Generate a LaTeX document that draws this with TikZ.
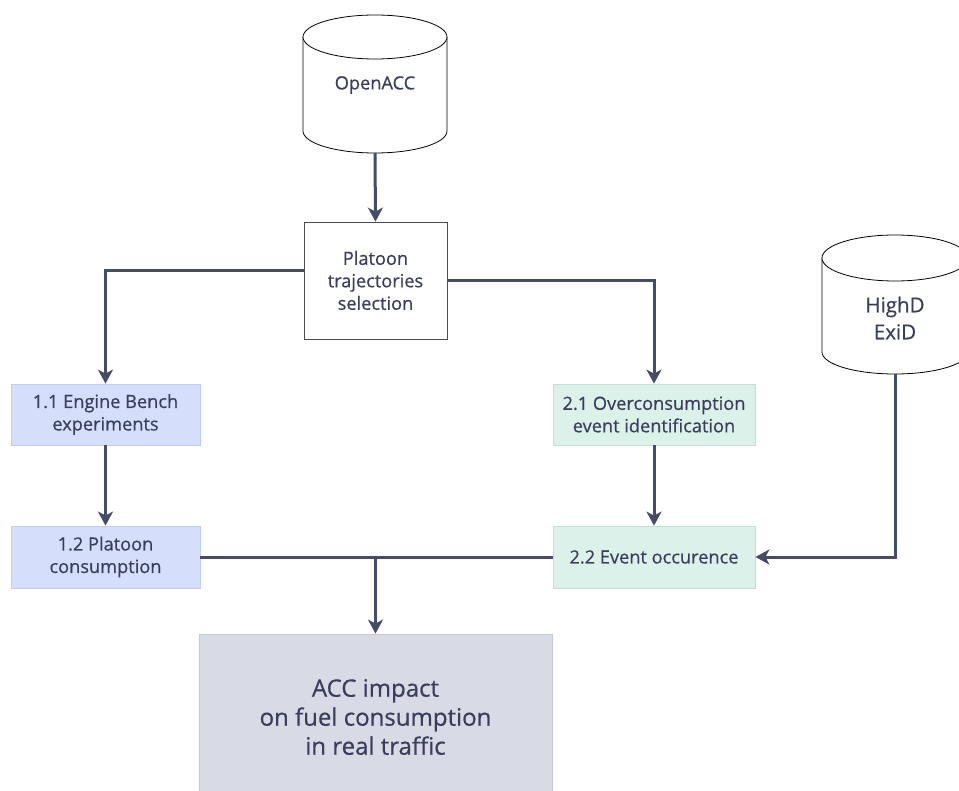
\documentclass[tikz,border=0pt]{standalone}
\usepackage{fontspec}
\setmainfont{Open Sans}[FakeBold=0.5]
\usetikzlibrary{arrows.meta}
\definecolor{lineC}{HTML}{464B66}
\definecolor{txtC}{HTML}{3A3E5A}
\definecolor{blueF}{HTML}{D5DFFC}
\definecolor{blueD}{HTML}{C3CCEB}
\definecolor{greenF}{HTML}{DCF1EA}
\definecolor{greenD}{HTML}{C6DDD4}
\definecolor{grayF}{HTML}{D8DAE5}
\definecolor{grayD}{HTML}{C6C8D4}
\tikzset{
  lbl/.style={text=txtC, font=\fontsize{18.2}{22.5}\selectfont, align=center},
  plainbox/.style={lbl, draw=black!70, line width=0.8pt, fill=white, inner sep=0pt},
  bluebox/.style={lbl, draw=blueD, line width=0.8pt, fill=blueF, inner sep=0pt},
  greenbox/.style={lbl, draw=greenD, line width=0.8pt, fill=greenF, inner sep=0pt},
  conn/.style={draw=lineC, line width=3pt, -{Stealth[length=14pt,width=15pt,inset=4pt]}},
  connp/.style={draw=lineC, line width=3pt},
  cyl/.style={draw=black, line width=0.8pt, fill=white}
}
\begin{document}
\begin{tikzpicture}[x=1pt,y=-1pt]
\useasboundingbox (0,0) rectangle (959,791);
% OpenACC cylinder
\path[cyl] (303,37) -- (303,131) arc[start angle=180, end angle=360, x radius=72pt, y radius=22pt] -- (447,37);
\path[cyl] (375,37) ellipse [x radius=72, y radius=22];
\node[lbl] (oacc) at (375,85) {OpenACC};
\coordinate (oaccb) at (375,153);
% HighD cylinder
\path[cyl] (822,258) -- (822,352) arc[start angle=180, end angle=360, x radius=73pt, y radius=22pt] -- (968,258);
\path[cyl] (895,258) ellipse [x radius=73, y radius=23];
\node[lbl, font=\fontsize{20.5}{27}\selectfont] (hd) at (895,318) {HighD\\ExiD};
\coordinate (hdb) at (895,374);
% boxes
\node[plainbox, minimum width=143pt, minimum height=117pt] (plat) at (375.5,280.5) {Platoon\\trajectories\\selection};
\node[bluebox, minimum width=189pt, minimum height=61pt] (e11) at (105.5,414.5) {1.1 Engine Bench\\experiments};
\node[bluebox, minimum width=189pt, minimum height=62pt] (p12) at (105.5,557) {1.2 Platoon\\consumption};
\node[greenbox, minimum width=202pt, minimum height=61pt] (e21) at (654,414.5) {2.1 Overconsumption\\event identification};
\node[greenbox, minimum width=202pt, minimum height=62pt] (ev22) at (654,557) {2.2 Event occurence};
\node[lbl, draw=grayD, line width=0.8pt, fill=grayF, inner sep=0pt, minimum width=353pt, minimum height=166pt,
      font=\fontsize{24}{29}\selectfont] (acc) at (375.5,717) {ACC impact\\on fuel consumption\\in real traffic};
% connectors
\draw[conn] (oaccb) -- (plat.north);
\draw[conn] ([yshift=10pt]plat.west) -| (e11.north);
\draw[conn] (plat.east) -| (e21.north);
\draw[conn] (e11.south) -- (p12.north);
\draw[conn] (e21.south) -- (ev22.north);
\draw[conn] (hdb) |- (ev22.east);
\draw[connp] (p12.east) -- (ev22.west);
\draw[conn] (p12.east -| acc.north) -- (acc.north);
\end{tikzpicture}
\end{document}
